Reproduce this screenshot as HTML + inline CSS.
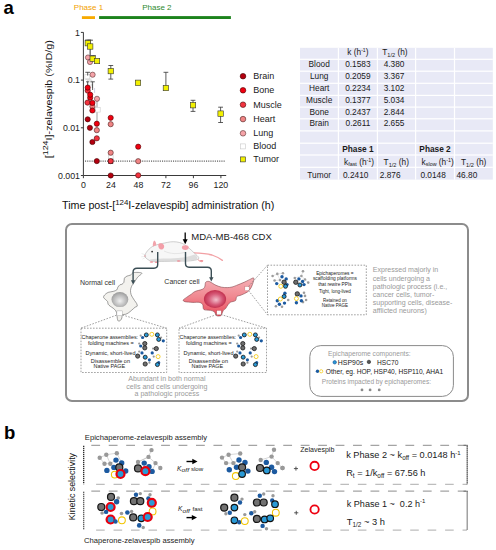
<!DOCTYPE html>
<html><head><meta charset="utf-8"><style>
html,body{margin:0;padding:0;background:#fff;overflow:hidden;}
svg{display:block;font-family:"Liberation Sans",sans-serif;}
</style></head><body>
<svg width="496" height="550" viewBox="0 0 496 550">
<rect width="496" height="550" fill="#fff"/>
<text x="3.6" y="13.7" font-size="18.5" font-weight="bold" fill="#000">a</text>
<text x="73.8" y="10.2" font-size="8" fill="#f2a000" text-anchor="start" >Phase 1</text>
<text x="142.2" y="10.3" font-size="8" fill="#2e8a2e" text-anchor="start" >Phase 2</text>
<rect x="81.9" y="16.2" width="13.1" height="2.8" fill="#f7aa00"/>
<rect x="99.1" y="16.1" width="131.8" height="2.9" fill="#1d831d"/>
<path d="M83.4 32.3 V175.5 H226.2" stroke="#3a3a3a" stroke-width="1" fill="none"/>
<path d="M80.9 32.40 H83.4" stroke="#3a3a3a" stroke-width="1"/>
<text x="80" y="35.60" font-size="8.8" fill="#222" text-anchor="end" >1</text>
<path d="M80.9 80.10 H83.4" stroke="#3a3a3a" stroke-width="1"/>
<text x="80" y="83.30" font-size="8.8" fill="#222" text-anchor="end" >0.1</text>
<path d="M80.9 127.80 H83.4" stroke="#3a3a3a" stroke-width="1"/>
<text x="80" y="131.00" font-size="8.8" fill="#222" text-anchor="end" >0.01</text>
<path d="M80.9 175.50 H83.4" stroke="#3a3a3a" stroke-width="1"/>
<text x="80" y="178.70" font-size="8.8" fill="#222" text-anchor="end" >0.001</text>
<path d="M83.40 175.5 V178.2" stroke="#3a3a3a" stroke-width="1"/>
<text x="83.40" y="187.6" font-size="8.8" fill="#222" text-anchor="middle" >0</text>
<path d="M110.90 175.5 V178.2" stroke="#3a3a3a" stroke-width="1"/>
<text x="110.90" y="187.6" font-size="8.8" fill="#222" text-anchor="middle" >24</text>
<path d="M138.40 175.5 V178.2" stroke="#3a3a3a" stroke-width="1"/>
<text x="138.40" y="187.6" font-size="8.8" fill="#222" text-anchor="middle" >48</text>
<path d="M165.90 175.5 V178.2" stroke="#3a3a3a" stroke-width="1"/>
<text x="165.90" y="187.6" font-size="8.8" fill="#222" text-anchor="middle" >72</text>
<path d="M193.40 175.5 V178.2" stroke="#3a3a3a" stroke-width="1"/>
<text x="193.40" y="187.6" font-size="8.8" fill="#222" text-anchor="middle" >96</text>
<path d="M220.90 175.5 V178.2" stroke="#3a3a3a" stroke-width="1"/>
<text x="220.90" y="187.6" font-size="8.8" fill="#222" text-anchor="middle" >120</text>
<path d="M85 161.1 H225" stroke="#333" stroke-width="1" stroke-dasharray="1.1 1.1"/>
<text x="62" y="209.1" font-size="11" fill="#111" textLength="212.3" lengthAdjust="spacingAndGlyphs">Time post-[<tspan font-size="8.1" dy="-4.3">124</tspan><tspan dy="4.3">I-zelavespib] administration (h)</tspan></text>
<text transform="translate(51.8 158.3) rotate(-90)" font-size="9.6" fill="#111" textLength="118.3" lengthAdjust="spacingAndGlyphs">[<tspan font-size="7.9" dy="-3.4">124</tspan><tspan dy="3.4">I]-zelavespib (%ID/g)</tspan></text>
<rect x="84.90" y="74.50" width="4.6" height="4.6" fill="#fff" stroke="#d4d4d4" stroke-width="0.6"/>
<rect x="87.30" y="80.50" width="4.6" height="4.6" fill="#fff" stroke="#d4d4d4" stroke-width="0.6"/>
<path d="M85.5 79.1 H91.5" stroke="#bbb" stroke-width="0.7"/>
<path d="M94.6 88 V93" stroke="#c8c8e0" stroke-width="0.8"/>
<path d="M87.7 72.3 V75.6 M85.3 72.3 H90.10000000000001" stroke="#333" stroke-width="0.8" fill="none"/>
<path d="M87.7 81.8 V86 M86.10000000000001 81.8 H89.3" stroke="#333" stroke-width="0.8" fill="none"/>
<path d="M92.6 81.8 V90 M90.39999999999999 81.8 H94.8" stroke="#333" stroke-width="0.8" fill="none"/>
<path d="M92.4 84 V88" stroke="#555" stroke-width="0.8"/>
<path d="M97 100 V128" stroke="#a8a8a8" stroke-width="1.1"/>
<rect x="95.40" y="107.30" width="4.8" height="4.8" fill="#fff" stroke="#ccc" stroke-width="0.6"/>
<rect x="108.30" y="154.90" width="4.8" height="4.8" fill="#fff" stroke="#c8c8c8" stroke-width="0.6"/>
<path d="M88.2 40 V44 M85.2 40 H91.2" stroke="#333" stroke-width="0.8" fill="none"/>
<path d="M90.2 40.2 V56 M87.4 40.2 H93.0" stroke="#333" stroke-width="0.8" fill="none"/>
<path d="M90.2 49 V56" stroke="#777" stroke-width="1"/>
<path d="M93.3 55.6 V60 M90.8 55.6 H95.8" stroke="#333" stroke-width="0.8" fill="none"/>
<path d="M110.8 65.5 V79.1 M108.39999999999999 65.5 H113.2 M108.39999999999999 79.1 H113.2" stroke="#333" stroke-width="0.8" fill="none"/>
<path d="M165.9 72.3 V88 M163.5 72.3 H168.3" stroke="#333" stroke-width="0.8" fill="none"/>
<path d="M193 100.3 V111.4 M190.6 100.3 H195.4 M190.6 111.4 H195.4" stroke="#333" stroke-width="0.8" fill="none"/>
<path d="M220.6 107.2 V122.5 M218.2 107.2 H223.0 M218.2 122.5 H223.0" stroke="#333" stroke-width="0.8" fill="none"/>
<rect x="108.2" y="158.8" width="5" height="5" fill="#222"/>
<circle cx="88" cy="57.5" r="2.6" fill="#f5a3a8" stroke="#5a3434" stroke-width="0.6"/>
<circle cx="90" cy="62" r="2.6" fill="#f5a3a8" stroke="#5a3434" stroke-width="0.6"/>
<circle cx="92.6" cy="74.7" r="2.6" fill="#f5a3a8" stroke="#5a3434" stroke-width="0.6"/>
<circle cx="87.7" cy="90.6" r="2.6" fill="#f2333f" stroke="#4a0808" stroke-width="0.6"/>
<circle cx="87.7" cy="87.6" r="2.6" fill="#f00010" stroke="#4a0000" stroke-width="0.6"/>
<circle cx="90.2" cy="97.7" r="2.6" fill="#f00010" stroke="#4a0000" stroke-width="0.6"/>
<circle cx="90.2" cy="94.7" r="2.6" fill="#f00010" stroke="#4a0000" stroke-width="0.6"/>
<circle cx="97" cy="98.8" r="2.6" fill="#f5a3a8" stroke="#5a3434" stroke-width="0.6"/>
<circle cx="87.5" cy="102.6" r="2.6" fill="#f2333f" stroke="#4a0808" stroke-width="0.6"/>
<circle cx="92.4" cy="106.4" r="2.6" fill="#f08484" stroke="#4a2424" stroke-width="0.6"/>
<circle cx="92.4" cy="102.9" r="2.6" fill="#f00010" stroke="#4a0000" stroke-width="0.6"/>
<circle cx="92.4" cy="110.5" r="2.6" fill="#f00010" stroke="#4a0000" stroke-width="0.6"/>
<circle cx="87.7" cy="119.3" r="2.6" fill="#b3000f" stroke="#400000" stroke-width="0.6"/>
<circle cx="96.8" cy="123.7" r="2.6" fill="#f00010" stroke="#4a0000" stroke-width="0.6"/>
<circle cx="89.9" cy="127.8" r="2.6" fill="#b3000f" stroke="#400000" stroke-width="0.6"/>
<circle cx="96.8" cy="130.2" r="2.6" fill="#f08484" stroke="#4a2424" stroke-width="0.6"/>
<circle cx="96.8" cy="138.3" r="2.6" fill="#f2333f" stroke="#4a0808" stroke-width="0.6"/>
<circle cx="92.4" cy="142" r="2.6" fill="#b3000f" stroke="#400000" stroke-width="0.6"/>
<circle cx="96.8" cy="161.1" r="2.6" fill="#b3000f" stroke="#400000" stroke-width="0.6"/>
<circle cx="110.7" cy="117.8" r="2.6" fill="#f00010" stroke="#4a0000" stroke-width="0.6"/>
<circle cx="110.7" cy="124.2" r="2.6" fill="#f08484" stroke="#4a2424" stroke-width="0.6"/>
<circle cx="110.7" cy="152.7" r="2.6" fill="#f08484" stroke="#4a2424" stroke-width="0.6"/>
<circle cx="110.7" cy="161.1" r="2.6" fill="#f2333f" stroke="#4a0808" stroke-width="0.6"/>
<circle cx="110.7" cy="175.5" r="2.6" fill="#b3000f" stroke="#400000" stroke-width="0.6"/>
<circle cx="138.2" cy="146.7" r="2.6" fill="#f00010" stroke="#4a0000" stroke-width="0.6"/>
<circle cx="138.2" cy="161.2" r="2.6" fill="#f08484" stroke="#4a2424" stroke-width="0.6"/>
<circle cx="138.2" cy="175.3" r="2.6" fill="#f2333f" stroke="#4a0808" stroke-width="0.6"/>
<rect x="85.10" y="40.50" width="5.4" height="5.4" fill="#f2f000" stroke="#333" stroke-width="0.6"/>
<rect x="87.50" y="43.80" width="5.4" height="5.4" fill="#f2f000" stroke="#333" stroke-width="0.6"/>
<rect x="90.00" y="56.00" width="5.4" height="5.4" fill="#f2f000" stroke="#333" stroke-width="0.6"/>
<rect x="94.30" y="58.30" width="5.4" height="5.4" fill="#f2f000" stroke="#333" stroke-width="0.6"/>
<rect x="108.10" y="68.40" width="5.4" height="5.4" fill="#f2f000" stroke="#333" stroke-width="0.6"/>
<rect x="135.30" y="80.10" width="5.4" height="5.4" fill="#f2f000" stroke="#333" stroke-width="0.6"/>
<rect x="163.20" y="85.30" width="5.4" height="5.4" fill="#f2f000" stroke="#333" stroke-width="0.6"/>
<rect x="190.30" y="102.50" width="5.4" height="5.4" fill="#f2f000" stroke="#333" stroke-width="0.6"/>
<rect x="217.90" y="110.90" width="5.4" height="5.4" fill="#f2f000" stroke="#333" stroke-width="0.6"/>
<circle cx="243" cy="76.2" r="2.8" fill="#b3000f" stroke="#400000" stroke-width="0.6"/>
<text x="253.3" y="79.2" font-size="9" fill="#1a1a1a" text-anchor="start" >Brain</text>
<circle cx="243" cy="90.3" r="2.8" fill="#f00010" stroke="#4a0000" stroke-width="0.6"/>
<text x="253.3" y="93.3" font-size="9" fill="#1a1a1a" text-anchor="start" >Bone</text>
<circle cx="243" cy="104.7" r="2.8" fill="#f2333f" stroke="#4a0808" stroke-width="0.6"/>
<text x="253.3" y="107.7" font-size="9" fill="#1a1a1a" text-anchor="start" >Muscle</text>
<circle cx="243" cy="119.1" r="2.8" fill="#f08484" stroke="#4a2424" stroke-width="0.6"/>
<text x="253.3" y="122.1" font-size="9" fill="#1a1a1a" text-anchor="start" >Heart</text>
<circle cx="243" cy="133.3" r="2.8" fill="#f5a3a8" stroke="#5a3434" stroke-width="0.6"/>
<text x="253.3" y="136.3" font-size="9" fill="#1a1a1a" text-anchor="start" >Lung</text>
<rect x="240.50" y="143.90" width="5" height="5" fill="#fff" stroke="#c8c8c8" stroke-width="0.6"/>
<text x="253.3" y="149.4" font-size="9" fill="#1a1a1a" text-anchor="start" >Blood</text>
<rect x="240.50" y="156.90" width="5" height="5" fill="#f2f000" stroke="#333" stroke-width="0.6"/>
<text x="253.3" y="162.4" font-size="9" fill="#1a1a1a" text-anchor="start" >Tumor</text>
<rect x="300" y="47.8" width="192.8" height="131.8" fill="#e8e9f6"/>
<rect x="337.79999999999995" y="47.8" width="1.2" height="131.8" fill="#fff"/>
<rect x="376.79999999999995" y="47.8" width="1.2" height="131.8" fill="#fff"/>
<rect x="415.0" y="47.8" width="1.2" height="131.8" fill="#fff"/>
<rect x="453.9" y="47.8" width="1.2" height="131.8" fill="#fff"/>
<rect x="300" y="58.699999999999996" width="192.8" height="1.2" fill="#fff"/>
<rect x="300" y="70.60000000000001" width="192.8" height="1.2" fill="#fff"/>
<rect x="300" y="82.7" width="192.8" height="1.2" fill="#fff"/>
<rect x="300" y="94.80000000000001" width="192.8" height="1.2" fill="#fff"/>
<rect x="300" y="106.5" width="192.8" height="1.2" fill="#fff"/>
<rect x="300" y="118.2" width="192.8" height="1.2" fill="#fff"/>
<rect x="300" y="130.3" width="192.8" height="1.2" fill="#fff"/>
<rect x="300" y="142.6" width="192.8" height="1.2" fill="#fff"/>
<rect x="300" y="154.4" width="192.8" height="1.2" fill="#fff"/>
<rect x="300" y="166.70000000000002" width="192.8" height="1.2" fill="#fff"/>
<text x="357.90" y="55.30" font-size="8.3" fill="#1a1a1a" text-anchor="middle" font-weight="normal">k (h<tspan font-size="5" dy="-3">-1</tspan><tspan dy="3">)</tspan></text>
<text x="394.90" y="55.30" font-size="8.3" fill="#1a1a1a" text-anchor="middle" font-weight="normal">T<tspan font-size="5.6" dy="2">1/2</tspan><tspan dy="-2"> (h)</tspan></text>
<text x="319.20" y="66.80" font-size="8.3" fill="#1a1a1a" text-anchor="middle" font-weight="normal">Blood</text>
<text x="357.90" y="66.80" font-size="8.3" fill="#1a1a1a" text-anchor="middle" font-weight="normal">0.1583</text>
<text x="394.10" y="66.80" font-size="8.3" fill="#1a1a1a" text-anchor="middle" font-weight="normal">4.380</text>
<text x="319.20" y="78.70" font-size="8.3" fill="#1a1a1a" text-anchor="middle" font-weight="normal">Lung</text>
<text x="357.90" y="78.70" font-size="8.3" fill="#1a1a1a" text-anchor="middle" font-weight="normal">0.2059</text>
<text x="394.10" y="78.70" font-size="8.3" fill="#1a1a1a" text-anchor="middle" font-weight="normal">3.367</text>
<text x="319.20" y="90.80" font-size="8.3" fill="#1a1a1a" text-anchor="middle" font-weight="normal">Heart</text>
<text x="357.90" y="90.80" font-size="8.3" fill="#1a1a1a" text-anchor="middle" font-weight="normal">0.2234</text>
<text x="394.10" y="90.80" font-size="8.3" fill="#1a1a1a" text-anchor="middle" font-weight="normal">3.102</text>
<text x="319.20" y="102.90" font-size="8.3" fill="#1a1a1a" text-anchor="middle" font-weight="normal">Muscle</text>
<text x="357.90" y="102.90" font-size="8.3" fill="#1a1a1a" text-anchor="middle" font-weight="normal">0.1377</text>
<text x="394.10" y="102.90" font-size="8.3" fill="#1a1a1a" text-anchor="middle" font-weight="normal">5.034</text>
<text x="319.20" y="114.60" font-size="8.3" fill="#1a1a1a" text-anchor="middle" font-weight="normal">Bone</text>
<text x="357.90" y="114.60" font-size="8.3" fill="#1a1a1a" text-anchor="middle" font-weight="normal">0.2437</text>
<text x="394.10" y="114.60" font-size="8.3" fill="#1a1a1a" text-anchor="middle" font-weight="normal">2.844</text>
<text x="319.20" y="126.30" font-size="8.3" fill="#1a1a1a" text-anchor="middle" font-weight="normal">Brain</text>
<text x="357.90" y="126.30" font-size="8.3" fill="#1a1a1a" text-anchor="middle" font-weight="normal">0.2611</text>
<text x="394.10" y="126.30" font-size="8.3" fill="#1a1a1a" text-anchor="middle" font-weight="normal">2.655</text>
<text x="357.90" y="151.90" font-size="8.3" fill="#1a1a1a" text-anchor="middle" font-weight="bold">Phase 1</text>
<text x="435.05" y="151.90" font-size="8.3" fill="#1a1a1a" text-anchor="middle" font-weight="bold">Phase 2</text>
<text x="344.00" y="164.60" font-size="8.3" fill="#1a1a1a" text-anchor="start" font-weight="normal">k<tspan font-size="5.4" dy="1.5">fast</tspan><tspan dy="-1.5"> (h</tspan><tspan font-size="5.4" dy="-3">-1</tspan><tspan dy="3">)</tspan></text>
<text x="383.60" y="164.60" font-size="8.3" fill="#1a1a1a" text-anchor="start" font-weight="normal">T<tspan font-size="5.6" dy="2">1/2</tspan><tspan dy="-2"> (h)</tspan></text>
<text x="421.60" y="164.60" font-size="8.3" fill="#1a1a1a" text-anchor="start" font-weight="normal">k<tspan font-size="5.4" dy="1.5">slow</tspan><tspan dy="-1.5"> (h</tspan><tspan font-size="5.4" dy="-3">-1</tspan><tspan dy="3">)</tspan></text>
<text x="461.00" y="164.60" font-size="8.3" fill="#1a1a1a" text-anchor="start" font-weight="normal">T<tspan font-size="5.6" dy="2">1/2</tspan><tspan dy="-2"> (h)</tspan></text>
<text x="319.20" y="178.00" font-size="8.3" fill="#1a1a1a" text-anchor="middle" font-weight="normal">Tumor</text>
<text x="343.00" y="178.00" font-size="8.3" fill="#1a1a1a" text-anchor="start" font-weight="normal">0.2410</text>
<text x="379.80" y="178.00" font-size="8.3" fill="#1a1a1a" text-anchor="start" font-weight="normal">2.876</text>
<text x="420.40" y="178.00" font-size="8.3" fill="#1a1a1a" text-anchor="start" font-weight="normal">0.0148</text>
<text x="456.50" y="178.00" font-size="8.3" fill="#1a1a1a" text-anchor="start" font-weight="normal">46.80</text>
<rect x="66" y="224" width="402" height="177" rx="6" fill="none" stroke="#8c8c8c" stroke-width="2"/>
<path d="M193.5 252.9 C200 253.1 206 253.4 212 255 C216 256.3 219.5 258.3 222.4 260.4" stroke="#f2a0a4" stroke-width="1.3" fill="none" stroke-linecap="round"/>
<path d="M144.80 256.00 C144.68 254.58 146.28 252.52 147.30 251.10 C148.32 249.68 149.70 248.42 150.90 247.50 C152.10 246.58 153.23 246.13 154.50 245.60 C155.77 245.07 156.88 244.72 158.50 244.30 C160.12 243.88 162.25 243.50 164.20 243.10 C166.15 242.70 168.18 242.10 170.20 241.90 C172.22 241.70 174.28 241.65 176.30 241.90 C178.32 242.15 180.63 242.72 182.30 243.40 C183.97 244.08 185.05 245.10 186.30 246.00 C187.55 246.90 188.58 247.73 189.80 248.80 C191.02 249.87 192.40 251.28 193.60 252.40 C194.80 253.52 196.13 254.57 197.00 255.50 C197.87 256.43 198.88 257.28 198.80 258.00 C198.72 258.72 198.30 259.30 196.50 259.80 C194.70 260.30 191.37 260.78 188.00 261.00 C184.63 261.22 180.27 261.03 176.30 261.10 C172.33 261.17 168.03 261.35 164.20 261.40 C160.37 261.45 156.00 261.70 153.30 261.40 C150.60 261.10 149.42 260.50 148.00 259.60 C146.58 258.70 144.92 257.42 144.80 256.00 Z" fill="#f7f7f7" stroke="#a0a0a0" stroke-width="0.5"/>
<path d="M150 259.5 C158 258 168 259 178 258 C185 257.5 190 256.5 194.5 254.5 C197.5 256.5 198.5 258.5 196 259.7 C185 261 165 261.5 153 261.4 C151 261 150.5 260.5 150 259.5 Z" fill="#d6d6d6" opacity="0.8"/>
<path d="M164 251 C170 254 178 254.5 186 252" stroke="#dcdcdc" stroke-width="0.7" fill="none"/>
<path d="M152.8 246.4 C152.6 243.5 153.3 241 154.4 240.4 C155.6 241.2 156.4 243.5 156.3 245.2 Z" fill="#f2a4ac"/>
<path d="M158.2 244.5 C159.5 242.8 162.5 243 163.8 245 C164.8 247 163.6 249.3 161.5 249.6 C159.5 249.6 158 247.5 158.2 244.5 Z" fill="#f39ea8"/>
<circle cx="152.1" cy="251.6" r="0.85" fill="#222"/>
<circle cx="145" cy="256" r="0.8" fill="#f09aa0"/>
<path d="M146 255 L141.5 253.5 M146 256.3 L141.2 256.8 M146.5 257 L142.5 259" stroke="#bbb" stroke-width="0.25"/>
<ellipse cx="185.3" cy="247.6" rx="3.4" ry="2.4" fill="#f4a0aa"/>
<ellipse cx="151.5" cy="262" rx="1.9" ry="0.8" fill="#ef8f98"/>
<ellipse cx="156.5" cy="262.2" rx="1.9" ry="0.8" fill="#ef8f98"/>
<ellipse cx="178.7" cy="261" rx="1.9" ry="0.8" fill="#ef8f98"/>
<ellipse cx="201.5" cy="260.8" rx="1.9" ry="0.8" fill="#ef8f98"/>
<path d="M198 259.5 C199.5 261.5 201 262 203 261.3" stroke="#f2a2a4" stroke-width="1.1" fill="none"/>
<path d="M185.2 232.6 V240" stroke="#000" stroke-width="1.3"/>
<path d="M182.7 239.2 L187.7 239.2 L185.2 244.2 Z" fill="#000"/>
<text x="191.2" y="240.3" font-size="9.5" fill="#1a1a1a" text-anchor="start" textLength="80.6" lengthAdjust="spacingAndGlyphs">MDA-MB-468 CDX</text>
<text x="80" y="285.2" font-size="7" fill="#333" text-anchor="start" textLength="35" lengthAdjust="spacingAndGlyphs">Normal cell</text>
<text x="164.3" y="284.3" font-size="7" fill="#333" text-anchor="start" textLength="35.3" lengthAdjust="spacingAndGlyphs">Cancer cell</text>
<defs><radialGradient id="gn" cx="0.5" cy="0.55" r="0.55" fx="0.5" fy="0.6"><stop offset="0" stop-color="#f0f0f0"/><stop offset="0.7" stop-color="#b8b8b8"/><stop offset="1" stop-color="#9a9a9a"/></radialGradient><radialGradient id="gc" cx="0.5" cy="0.5" r="0.55" fx="0.55" fy="0.55"><stop offset="0" stop-color="#f2c0cc"/><stop offset="0.55" stop-color="#d65a78"/><stop offset="0.9" stop-color="#c2304e"/><stop offset="1" stop-color="#b02444"/></radialGradient><linearGradient id="gcc" x1="0" y1="0" x2="0" y2="1"><stop offset="0" stop-color="#f5b0b6"/><stop offset="0.5" stop-color="#f08890"/><stop offset="1" stop-color="#e84a5c"/></linearGradient></defs>
<path d="M141.80 273.10 C141.12 272.33 135.48 272.27 133.60 272.60 C131.72 272.93 131.60 274.52 130.50 275.10 C129.40 275.68 128.02 275.58 127.00 276.10 C125.98 276.62 124.92 277.17 124.40 278.20 C123.88 279.23 124.32 281.28 123.90 282.30 C123.48 283.32 122.57 283.88 121.90 284.30 C121.23 284.72 120.58 284.30 119.90 284.80 C119.22 285.30 118.32 286.45 117.80 287.30 C117.28 288.15 117.57 289.22 116.80 289.90 C116.03 290.58 114.65 290.98 113.20 291.40 C111.75 291.82 109.53 291.80 108.10 292.40 C106.67 293.00 105.35 294.15 104.60 295.00 C103.85 295.85 103.43 296.73 103.60 297.50 C103.77 298.27 104.93 298.92 105.60 299.60 C106.27 300.28 107.18 300.83 107.60 301.60 C108.02 302.37 107.67 303.43 108.10 304.20 C108.53 304.97 109.35 305.53 110.20 306.20 C111.05 306.87 112.27 307.43 113.20 308.20 C114.13 308.97 115.20 309.87 115.80 310.80 C116.40 311.73 116.55 312.53 116.80 313.80 C117.05 315.07 117.05 317.20 117.30 318.40 C117.55 319.60 117.78 320.67 118.30 321.00 C118.82 321.33 119.80 320.92 120.40 320.40 C121.00 319.88 121.57 318.83 121.90 317.90 C122.23 316.97 121.80 315.40 122.40 314.80 C123.00 314.20 124.48 314.63 125.50 314.30 C126.52 313.97 127.48 313.47 128.50 312.80 C129.52 312.13 130.50 311.23 131.60 310.30 C132.70 309.37 134.17 307.88 135.10 307.20 C136.03 306.52 136.93 306.80 137.20 306.20 C137.47 305.60 137.13 304.53 136.70 303.60 C136.27 302.67 135.28 301.62 134.60 300.60 C133.92 299.58 133.18 298.52 132.60 297.50 C132.02 296.48 131.45 295.68 131.10 294.50 C130.75 293.32 130.42 291.77 130.50 290.40 C130.58 289.03 131.08 287.48 131.60 286.30 C132.12 285.12 132.58 284.82 133.60 283.30 C134.62 281.78 136.33 278.90 137.70 277.20 C139.07 275.50 142.48 273.87 141.80 273.10 Z" fill="#f3f2ee" stroke="#555" stroke-width="0.55"/>
<ellipse cx="119.9" cy="299.6" rx="8.4" ry="7.5" fill="url(#gn)"/>
<rect x="116.9" y="310.9" width="5.4" height="4.9" fill="#fff" stroke="#999" stroke-width="0.4"/>
<path d="M205.50 282.60 C205.93 281.68 206.58 281.55 207.30 281.40 C208.02 281.25 208.85 281.33 209.80 281.70 C210.75 282.07 211.97 283.00 213.00 283.60 C214.03 284.20 214.57 284.70 216.00 285.30 C217.43 285.90 219.72 286.82 221.60 287.20 C223.48 287.58 225.57 287.63 227.30 287.60 C229.03 287.57 230.47 287.37 232.00 287.00 C233.53 286.63 234.42 286.22 236.50 285.40 C238.58 284.58 242.08 283.18 244.50 282.10 C246.92 281.02 249.48 279.58 251.00 278.90 C252.52 278.22 253.20 277.57 253.60 278.00 C254.00 278.43 253.80 279.92 253.40 281.50 C253.00 283.08 252.15 285.78 251.20 287.50 C250.25 289.22 249.35 290.55 247.70 291.80 C246.05 293.05 243.12 294.20 241.30 295.00 C239.48 295.80 237.77 295.67 236.80 296.60 C235.83 297.53 236.55 299.67 235.50 300.60 C234.45 301.53 231.73 301.53 230.50 302.20 C229.27 302.87 228.92 303.53 228.10 304.60 C227.28 305.67 226.42 307.62 225.60 308.60 C224.78 309.58 223.87 309.48 223.20 310.50 C222.53 311.52 222.13 313.80 221.60 314.70 C221.07 315.60 220.87 315.75 220.00 315.90 C219.13 316.05 217.33 316.27 216.40 315.60 C215.47 314.93 215.42 312.78 214.40 311.90 C213.38 311.02 212.05 310.70 210.30 310.30 C208.55 309.90 205.17 310.45 203.90 309.50 C202.63 308.55 203.45 305.78 202.70 304.60 C201.95 303.42 201.03 302.77 199.40 302.40 C197.77 302.03 195.30 302.52 192.90 302.40 C190.50 302.28 186.60 302.10 185.00 301.70 C183.40 301.30 183.05 300.72 183.30 300.00 C183.55 299.28 185.17 298.37 186.50 297.40 C187.83 296.43 189.88 295.18 191.30 294.20 C192.72 293.22 193.17 292.32 195.00 291.50 C196.83 290.68 200.68 290.07 202.30 289.30 C203.92 288.53 204.17 288.02 204.70 286.90 C205.23 285.78 205.07 283.52 205.50 282.60 Z" fill="url(#gcc)" stroke="#7a3a40" stroke-width="0.55"/>
<ellipse cx="215" cy="299" rx="11.1" ry="9" fill="url(#gc)"/>
<rect x="244.9" y="286.5" width="4.2" height="4.2" fill="#fff" stroke="#a55" stroke-width="0.3"/>
<rect x="216.8" y="310.5" width="4.4" height="4.3" fill="#fff" stroke="#a55" stroke-width="0.3"/>
<path d="M157.7 252 V264.5 Q157.7 268.2 154 268.2 H137 Q133.1 268.2 133.1 272 V281" stroke="#3b4e55" stroke-width="1.4" fill="none"/>
<path d="M130.9 280.2 L135.3 280.2 L133.1 284.4 Z" fill="#3b4e55"/>
<path d="M185.5 252 V263.5 Q185.5 267.2 189 267.2 H207.5 Q211.3 267.2 211.3 271 V278" stroke="#3b4e55" stroke-width="1.4" fill="none"/>
<path d="M209.1 277.3 L213.5 277.3 L211.3 281.5 Z" fill="#3b4e55"/>
<path d="M248.5 286.5 L267.5 265.2 M248.5 290.5 L267.5 314.8" stroke="#777" stroke-width="0.7" stroke-dasharray="1.6 1.4" fill="none"/>
<rect x="267.5" y="265.2" width="98.8" height="49.6" stroke="#777" stroke-width="0.7" stroke-dasharray="1.6 1.4" fill="none"/>
<path d="M116.4 315.2 L81 328.2 M122.5 315 L166.7 328.2" stroke="#777" stroke-width="0.7" stroke-dasharray="1.6 1.4" fill="none"/>
<rect x="81" y="328.2" width="85.7" height="44.3" stroke="#777" stroke-width="0.7" stroke-dasharray="1.6 1.4" fill="none"/>
<path d="M216.7 314.5 L179 328.2 M220.9 314.5 L266.5 328.2" stroke="#777" stroke-width="0.7" stroke-dasharray="1.6 1.4" fill="none"/>
<rect x="179" y="328.2" width="87.5" height="44.3" stroke="#777" stroke-width="0.7" stroke-dasharray="1.6 1.4" fill="none"/>
<text x="334.9" y="274.7" font-size="5.6" fill="#1a1a1a" text-anchor="middle" textLength="37.5" lengthAdjust="spacingAndGlyphs">Epichaperomes =</text>
<text x="334.9" y="280.1" font-size="5.6" fill="#1a1a1a" text-anchor="middle" textLength="44" lengthAdjust="spacingAndGlyphs">scaffolding platforms</text>
<text x="334.9" y="285.6" font-size="5.6" fill="#1a1a1a" text-anchor="middle" textLength="33.5" lengthAdjust="spacingAndGlyphs">that rewire PPIs</text>
<text x="334.9" y="293.3" font-size="5.6" fill="#1a1a1a" text-anchor="middle" textLength="32" lengthAdjust="spacingAndGlyphs">Tight, long-lived</text>
<text x="334.9" y="301.5" font-size="5.6" fill="#1a1a1a" text-anchor="middle" textLength="23.8" lengthAdjust="spacingAndGlyphs">Retained on</text>
<text x="334.9" y="306.8" font-size="5.6" fill="#1a1a1a" text-anchor="middle" textLength="26.3" lengthAdjust="spacingAndGlyphs">Native PAGE</text>
<circle cx="272.6" cy="276.0" r="1.3" fill="#9b9b9b"/>
<circle cx="277.3" cy="273.9" r="1.3" fill="#9b9b9b"/>
<circle cx="282.9" cy="273.3" r="1.3" fill="#9b9b9b"/>
<circle cx="274.6" cy="280.5" r="1.3" fill="#9b9b9b"/>
<circle cx="280.0" cy="280.1" r="1.3" fill="#9b9b9b"/>
<path d="M272.6 276 L277.3 273.9 L282.9 273.3 M274.6 280.5 L280 280.1 L277.3 273.9" stroke="#aaa" stroke-width="0.3" fill="none"/>
<circle cx="282.0" cy="276.8" r="1.7" fill="#1c5aa0"/>
<circle cx="286.2" cy="278.9" r="1.7" fill="#1c5aa0"/>
<circle cx="276.7" cy="283.6" r="1.7" fill="#1c5aa0"/>
<circle cx="287.0" cy="284.6" r="1.7" fill="#1c5aa0"/>
<circle cx="284.1" cy="282.2" r="2.2" fill="#6e6e6e" stroke="#1a1a1a" stroke-width="0.8"/>
<circle cx="280.8" cy="286.3" r="2.0" fill="#fff" stroke="#f2c500" stroke-width="0.8"/>
<circle cx="285.5" cy="286.3" r="2.0" fill="#2a9ad6" stroke="#111" stroke-width="0.8"/>
<circle cx="303.0" cy="271.3" r="1.3" fill="#9b9b9b"/>
<circle cx="301.4" cy="276.0" r="1.3" fill="#9b9b9b"/>
<circle cx="294.8" cy="278.0" r="1.3" fill="#9b9b9b"/>
<circle cx="305.0" cy="279.5" r="1.3" fill="#9b9b9b"/>
<circle cx="308.2" cy="282.6" r="1.3" fill="#9b9b9b"/>
<path d="M303 271.3 L301.4 276 L294.8 278 M301.4 276 L305 279.5 L308.2 282.6" stroke="#aaa" stroke-width="0.3" fill="none"/>
<circle cx="298.9" cy="278.9" r="1.7" fill="#1c5aa0"/>
<circle cx="302.6" cy="281.5" r="1.7" fill="#1c5aa0"/>
<circle cx="304.0" cy="284.6" r="1.7" fill="#1c5aa0"/>
<circle cx="295.8" cy="282.2" r="2.2" fill="#6e6e6e" stroke="#1a1a1a" stroke-width="0.8"/>
<circle cx="299.9" cy="285.0" r="2.0" fill="#2a9ad6" stroke="#111" stroke-width="0.8"/>
<circle cx="288.2" cy="300.0" r="1.3" fill="#9b9b9b"/>
<circle cx="275.9" cy="306.2" r="1.3" fill="#9b9b9b"/>
<circle cx="282.0" cy="306.8" r="1.3" fill="#9b9b9b"/>
<circle cx="284.9" cy="293.3" r="1.7" fill="#1c5aa0"/>
<circle cx="277.3" cy="300.7" r="1.7" fill="#1c5aa0"/>
<circle cx="279.4" cy="304.2" r="1.7" fill="#1c5aa0"/>
<circle cx="284.5" cy="303.1" r="1.7" fill="#1c5aa0"/>
<circle cx="284.1" cy="296.5" r="2.0" fill="#2a9ad6" stroke="#111" stroke-width="0.8"/>
<circle cx="280.4" cy="299.0" r="2.0" fill="#fff" stroke="#f2c500" stroke-width="0.8"/>
<circle cx="305.0" cy="295.9" r="1.3" fill="#9b9b9b"/>
<circle cx="306.1" cy="300.0" r="1.3" fill="#9b9b9b"/>
<circle cx="303.0" cy="302.1" r="1.3" fill="#9b9b9b"/>
<circle cx="304.0" cy="292.8" r="1.3" fill="#9b9b9b"/>
<circle cx="301.0" cy="295.9" r="1.7" fill="#1c5aa0"/>
<circle cx="301.4" cy="300.7" r="1.7" fill="#1c5aa0"/>
<circle cx="296.4" cy="302.7" r="1.7" fill="#1c5aa0"/>
<circle cx="297.3" cy="293.9" r="2.2" fill="#6e6e6e" stroke="#1a1a1a" stroke-width="0.8"/>
<circle cx="296.4" cy="298.6" r="2.0" fill="#fff" stroke="#f2c500" stroke-width="0.8"/>
<text x="372.8" y="272.4" font-size="7.05" fill="#9a9a9a" text-anchor="start">Expressed majorly in</text>
<text x="372.8" y="280.6" font-size="7.05" fill="#9a9a9a" text-anchor="start">cells undergoing a</text>
<text x="372.8" y="288.8" font-size="7.05" fill="#9a9a9a" text-anchor="start">pathologic process (i.e.,</text>
<text x="372.8" y="297.0" font-size="7.05" fill="#9a9a9a" text-anchor="start">cancer cells, tumor-</text>
<text x="372.8" y="305.2" font-size="7.05" fill="#9a9a9a" text-anchor="start">supporting cells, disease-</text>
<text x="372.8" y="313.4" font-size="7.05" fill="#9a9a9a" text-anchor="start">afflicted neurons)</text>
<text x="81.5" y="339.4" font-size="5.7" fill="#1a1a1a" text-anchor="start" textLength="56.6" lengthAdjust="spacingAndGlyphs">Chaperone assemblies:</text>
<text x="88.0" y="344.6" font-size="5.7" fill="#1a1a1a" text-anchor="start" textLength="45.7" lengthAdjust="spacingAndGlyphs">folding machines =</text>
<text x="85.6" y="354.8" font-size="5.7" fill="#1a1a1a" text-anchor="start" textLength="49.9" lengthAdjust="spacingAndGlyphs">Dynamic, short-lived</text>
<text x="90.8" y="362.7" font-size="5.7" fill="#1a1a1a" text-anchor="start" textLength="39.2" lengthAdjust="spacingAndGlyphs">Disassemble on</text>
<text x="93.6" y="367.7" font-size="5.7" fill="#1a1a1a" text-anchor="start" textLength="31.6" lengthAdjust="spacingAndGlyphs">Native PAGE</text>
<circle cx="140.7" cy="335.6" r="1.1" fill="#9b9b9b"/>
<circle cx="161.1" cy="337.5" r="1.1" fill="#9b9b9b"/>
<circle cx="139.2" cy="343.6" r="1.1" fill="#9b9b9b"/>
<circle cx="153.1" cy="348.6" r="1.1" fill="#9b9b9b"/>
<circle cx="139.2" cy="351.6" r="1.1" fill="#9b9b9b"/>
<circle cx="153.7" cy="356.6" r="1.1" fill="#9b9b9b"/>
<circle cx="149.4" cy="362.7" r="1.1" fill="#9b9b9b"/>
<circle cx="142.6" cy="337.5" r="1.6" fill="#1c5aa0"/>
<circle cx="163.3" cy="340.8" r="1.6" fill="#1c5aa0"/>
<circle cx="140.7" cy="346.0" r="1.6" fill="#1c5aa0"/>
<circle cx="152.2" cy="352.9" r="1.6" fill="#1c5aa0"/>
<circle cx="142.0" cy="352.9" r="1.6" fill="#1c5aa0"/>
<circle cx="149.4" cy="359.8" r="1.6" fill="#1c5aa0"/>
<circle cx="158.7" cy="362.7" r="1.6" fill="#1c5aa0"/>
<circle cx="144.8" cy="343.6" r="2.1" fill="#6e6e6e" stroke="#1a1a1a" stroke-width="0.8"/>
<circle cx="144.8" cy="347.9" r="2.1" fill="#6e6e6e" stroke="#1a1a1a" stroke-width="0.8"/>
<circle cx="156.3" cy="348.6" r="2.1" fill="#6e6e6e" stroke="#1a1a1a" stroke-width="0.8"/>
<circle cx="137.7" cy="356.1" r="2.1" fill="#6e6e6e" stroke="#1a1a1a" stroke-width="0.8"/>
<circle cx="145.2" cy="364.0" r="2.1" fill="#6e6e6e" stroke="#1a1a1a" stroke-width="0.8"/>
<circle cx="146.3" cy="334.9" r="2.0" fill="#2a9ad6" stroke="#111" stroke-width="0.8"/>
<circle cx="157.4" cy="334.9" r="2.0" fill="#2a9ad6" stroke="#111" stroke-width="0.8"/>
<circle cx="158.7" cy="339.4" r="2.0" fill="#2a9ad6" stroke="#111" stroke-width="0.8"/>
<circle cx="145.2" cy="357.2" r="2.0" fill="#2a9ad6" stroke="#111" stroke-width="0.8"/>
<circle cx="157.4" cy="364.6" r="2.0" fill="#2a9ad6" stroke="#111" stroke-width="0.8"/>
<circle cx="151.8" cy="334.3" r="2.0" fill="#fff" stroke="#f2c500" stroke-width="0.8"/>
<circle cx="158.1" cy="356.6" r="2.0" fill="#fff" stroke="#f2c500" stroke-width="0.8"/>
<text x="179.5" y="339.4" font-size="5.7" fill="#1a1a1a" text-anchor="start" textLength="56.6" lengthAdjust="spacingAndGlyphs">Chaperone assemblies:</text>
<text x="186.0" y="344.6" font-size="5.7" fill="#1a1a1a" text-anchor="start" textLength="45.7" lengthAdjust="spacingAndGlyphs">folding machines =</text>
<text x="183.6" y="354.8" font-size="5.7" fill="#1a1a1a" text-anchor="start" textLength="49.9" lengthAdjust="spacingAndGlyphs">Dynamic, short-lived</text>
<text x="188.8" y="362.7" font-size="5.7" fill="#1a1a1a" text-anchor="start" textLength="39.2" lengthAdjust="spacingAndGlyphs">Disassemble on</text>
<text x="191.6" y="367.7" font-size="5.7" fill="#1a1a1a" text-anchor="start" textLength="31.6" lengthAdjust="spacingAndGlyphs">Native PAGE</text>
<circle cx="238.7" cy="335.6" r="1.1" fill="#9b9b9b"/>
<circle cx="259.1" cy="337.5" r="1.1" fill="#9b9b9b"/>
<circle cx="237.2" cy="343.6" r="1.1" fill="#9b9b9b"/>
<circle cx="251.1" cy="348.6" r="1.1" fill="#9b9b9b"/>
<circle cx="237.2" cy="351.6" r="1.1" fill="#9b9b9b"/>
<circle cx="251.7" cy="356.6" r="1.1" fill="#9b9b9b"/>
<circle cx="247.4" cy="362.7" r="1.1" fill="#9b9b9b"/>
<circle cx="240.6" cy="337.5" r="1.6" fill="#1c5aa0"/>
<circle cx="261.3" cy="340.8" r="1.6" fill="#1c5aa0"/>
<circle cx="238.7" cy="346.0" r="1.6" fill="#1c5aa0"/>
<circle cx="250.2" cy="352.9" r="1.6" fill="#1c5aa0"/>
<circle cx="240.0" cy="352.9" r="1.6" fill="#1c5aa0"/>
<circle cx="247.4" cy="359.8" r="1.6" fill="#1c5aa0"/>
<circle cx="256.7" cy="362.7" r="1.6" fill="#1c5aa0"/>
<circle cx="242.8" cy="343.6" r="2.1" fill="#6e6e6e" stroke="#1a1a1a" stroke-width="0.8"/>
<circle cx="242.8" cy="347.9" r="2.1" fill="#6e6e6e" stroke="#1a1a1a" stroke-width="0.8"/>
<circle cx="254.3" cy="348.6" r="2.1" fill="#6e6e6e" stroke="#1a1a1a" stroke-width="0.8"/>
<circle cx="235.7" cy="356.1" r="2.1" fill="#6e6e6e" stroke="#1a1a1a" stroke-width="0.8"/>
<circle cx="243.2" cy="364.0" r="2.1" fill="#6e6e6e" stroke="#1a1a1a" stroke-width="0.8"/>
<circle cx="244.3" cy="334.9" r="2.0" fill="#2a9ad6" stroke="#111" stroke-width="0.8"/>
<circle cx="255.4" cy="334.9" r="2.0" fill="#2a9ad6" stroke="#111" stroke-width="0.8"/>
<circle cx="256.7" cy="339.4" r="2.0" fill="#2a9ad6" stroke="#111" stroke-width="0.8"/>
<circle cx="243.2" cy="357.2" r="2.0" fill="#2a9ad6" stroke="#111" stroke-width="0.8"/>
<circle cx="255.4" cy="364.6" r="2.0" fill="#2a9ad6" stroke="#111" stroke-width="0.8"/>
<circle cx="249.8" cy="334.3" r="2.0" fill="#fff" stroke="#f2c500" stroke-width="0.8"/>
<circle cx="256.1" cy="356.6" r="2.0" fill="#fff" stroke="#f2c500" stroke-width="0.8"/>
<text x="166.9" y="380.5" font-size="7.05" fill="#9a9a9a" text-anchor="middle" textLength="77.19999999999999" lengthAdjust="spacingAndGlyphs">Abundant in both normal</text>
<text x="166.9" y="388.5" font-size="7.05" fill="#9a9a9a" text-anchor="middle" textLength="81.1" lengthAdjust="spacingAndGlyphs">cells and cells undergoing</text>
<text x="166.9" y="396.0" font-size="7.05" fill="#9a9a9a" text-anchor="middle" textLength="64.69999999999999" lengthAdjust="spacingAndGlyphs">a pathologic process</text>
<rect x="309.8" y="345.6" width="143.6" height="50.8" rx="11" fill="none" stroke="#8a8a8a" stroke-width="1"/>
<text x="328" y="355.6" font-size="6.4" fill="#9a9a9a" text-anchor="start" textLength="82.6" lengthAdjust="spacingAndGlyphs">Epichaperome components:</text>
<circle cx="334.7" cy="362.3" r="1.7" fill="#2a9ad6" stroke="#1c5aa0" stroke-width="0.7"/>
<text x="337.8" y="364.7" font-size="6.4" fill="#1a1a1a" text-anchor="start" textLength="25.4" lengthAdjust="spacingAndGlyphs">HSP90s</text>
<circle cx="368.9" cy="361.9" r="1.7" fill="#555" stroke="#222" stroke-width="0.6"/>
<text x="377.1" y="364.7" font-size="6.4" fill="#1a1a1a" text-anchor="start" textLength="21.3" lengthAdjust="spacingAndGlyphs">HSC70</text>
<circle cx="317.5" cy="371.3" r="1.7" fill="#1c5aa0"/>
<circle cx="321.2" cy="371.3" r="1.6" fill="#fff" stroke="#f2c500" stroke-width="0.7"/>
<text x="325.8" y="373.8" font-size="6.4" fill="#1a1a1a" text-anchor="start" textLength="117.4" lengthAdjust="spacingAndGlyphs">Other, eg. HOP, HSP40, HSP110, AHA1</text>
<text x="321.8" y="383.7" font-size="6.4" fill="#9a9a9a" text-anchor="start" textLength="109.2" lengthAdjust="spacingAndGlyphs">Proteins impacted by epichaperomes:</text>
<circle cx="362" cy="389.9" r="1.4" fill="#8a8a8a"/>
<circle cx="370.1" cy="389.9" r="1.4" fill="#8a8a8a"/>
<circle cx="379.2" cy="389.9" r="1.4" fill="#8a8a8a"/>
<text x="3.9" y="439.1" font-size="18.5" font-weight="bold" fill="#000">b</text>
<text x="84.8" y="439.6" font-size="7.6" fill="#222" text-anchor="start" textLength="122.2" lengthAdjust="spacingAndGlyphs">Epichaperome-zelavespib assembly</text>
<text x="84.0" y="542.6" font-size="7.6" fill="#222" text-anchor="start" textLength="110.6" lengthAdjust="spacingAndGlyphs">Chaperone-zelavespib assembly</text>
<text transform="translate(75.2 520.2) rotate(-90)" font-size="9" fill="#111" textLength="67.2" lengthAdjust="spacingAndGlyphs">Kinetic selectivity</text>
<path d="M91.3 445.3 H466" stroke="#a4a4a4" stroke-width="1.25" stroke-dasharray="8.8 8.65" fill="none"/>
<path d="M96.1 484.3 H467" stroke="#bdbdbd" stroke-width="1.2" stroke-dasharray="8.6 8.85" fill="none"/>
<path d="M83.7 445.8 V484.3" stroke="#1e1e1e" stroke-width="1.25" stroke-dasharray="1.1 0.9" fill="none"/>
<path d="M467.2 445.6 V484.3" stroke="#1e1e1e" stroke-width="1.25" stroke-dasharray="1.1 0.9" fill="none"/>
<path d="M463.5 445.3 H467.8" stroke="#666" stroke-width="0.9"/>
<path d="M91.3 491.2 H466" stroke="#a4a4a4" stroke-width="1.25" stroke-dasharray="8.8 8.65" fill="none"/>
<path d="M96.1 530.1 H467" stroke="#bdbdbd" stroke-width="1.2" stroke-dasharray="8.6 8.85" fill="none"/>
<path d="M83.7 491.7 V530.1" stroke="#1e1e1e" stroke-width="1.25" stroke-dasharray="1.1 0.9" fill="none"/>
<path d="M467.2 491.5 V530.1" stroke="#1e1e1e" stroke-width="1.25" stroke-dasharray="1.1 0.9" fill="none"/>
<path d="M463.5 491.2 H467.8" stroke="#666" stroke-width="0.9"/>
<path d="M99.7 457.7 L106.3 454.7 L110.3 463.7 L104.5 463.7 L99.7 457.7" stroke="#b0b0b0" stroke-width="0.5" fill="none"/>
<path d="M106.3 454.7 L116.8 453.2 L121.7 462.9" stroke="#b0b0b0" stroke-width="0.5" fill="none"/>
<path d="M110.3 463.7 L116.0 460.1" stroke="#b0b0b0" stroke-width="0.5" fill="none"/>
<circle cx="99.7" cy="457.7" r="2.2" fill="#999"/>
<circle cx="106.3" cy="454.7" r="2.2" fill="#999"/>
<circle cx="116.8" cy="453.2" r="2.2" fill="#999"/>
<circle cx="104.5" cy="463.7" r="2.2" fill="#999"/>
<circle cx="110.3" cy="463.7" r="2.2" fill="#999"/>
<circle cx="116.0" cy="460.1" r="2.7" fill="#1c5aa0"/>
<circle cx="121.7" cy="462.9" r="2.7" fill="#1c5aa0"/>
<circle cx="113.9" cy="467.4" r="2.7" fill="#1c5aa0"/>
<circle cx="106.9" cy="470.4" r="2.7" fill="#1c5aa0"/>
<circle cx="125.7" cy="471.0" r="2.7" fill="#1c5aa0"/>
<circle cx="119.3" cy="467.4" r="3.5" fill="#727272" stroke="#161616" stroke-width="1.2"/>
<circle cx="114.8" cy="474.6" r="3.4" fill="#fff" stroke="#f2c500" stroke-width="1.05"/>
<circle cx="120.5" cy="474.0" r="4.0" fill="#2a9ad6" stroke="#e8000e" stroke-width="2.2"/>
<path d="M151.5 450.1 L148.5 456.9 L138.0 462.0 L148.5 456.9 L155.5 463.1 L160.3 468.0" stroke="#b0b0b0" stroke-width="0.5" fill="none"/>
<path d="M155.5 463.1 L152.1 471.4" stroke="#b0b0b0" stroke-width="0.5" fill="none"/>
<circle cx="151.5" cy="450.1" r="2.2" fill="#999"/>
<circle cx="148.5" cy="456.9" r="2.2" fill="#999"/>
<circle cx="155.5" cy="463.1" r="2.2" fill="#999"/>
<circle cx="160.3" cy="468.0" r="2.2" fill="#999"/>
<circle cx="138.0" cy="462.0" r="2.2" fill="#999"/>
<circle cx="144.2" cy="463.1" r="2.7" fill="#1c5aa0"/>
<circle cx="149.0" cy="466.8" r="2.7" fill="#1c5aa0"/>
<circle cx="152.1" cy="471.4" r="2.7" fill="#1c5aa0"/>
<circle cx="138.0" cy="468.4" r="3.5" fill="#727272" stroke="#161616" stroke-width="1.2"/>
<circle cx="145.4" cy="471.2" r="4.0" fill="#2a9ad6" stroke="#e8000e" stroke-width="2.2"/>
<path d="M186.5 461.5 H193.5" stroke="#000" stroke-width="1.4"/><path d="M192.3 458.8 L197.5 461.5 L192.3 464.2 Z" fill="#000"/>
<text x="177.1" y="470.5" font-size="6.6" fill="#222" font-style="italic">K</text>
<text x="181.6" y="471.6" font-size="5.6" fill="#222" font-style="italic" textLength="7.4" lengthAdjust="spacingAndGlyphs">off</text>
<text x="190.9" y="470.5" font-size="6.2" fill="#222" textLength="12.3" lengthAdjust="spacingAndGlyphs">slow</text>
<path d="M222.0 457.6 L228.6 454.7 L240.2 453.5" stroke="#b0b0b0" stroke-width="0.5" fill="none"/>
<path d="M228.6 454.7 L233.4 463.1 L226.1 463.1 L222.0 457.6" stroke="#b0b0b0" stroke-width="0.5" fill="none"/>
<path d="M233.4 463.1 L239.0 460.0" stroke="#b0b0b0" stroke-width="0.5" fill="none"/>
<circle cx="222.0" cy="457.6" r="2.2" fill="#999"/>
<circle cx="228.6" cy="454.7" r="2.2" fill="#999"/>
<circle cx="240.2" cy="453.5" r="2.2" fill="#999"/>
<circle cx="226.1" cy="463.1" r="2.2" fill="#999"/>
<circle cx="233.4" cy="463.1" r="2.2" fill="#999"/>
<circle cx="239.0" cy="460.0" r="2.7" fill="#1c5aa0"/>
<circle cx="245.0" cy="462.4" r="2.7" fill="#1c5aa0"/>
<circle cx="229.3" cy="469.7" r="2.7" fill="#1c5aa0"/>
<circle cx="236.5" cy="467.3" r="2.7" fill="#1c5aa0"/>
<circle cx="247.9" cy="471.1" r="2.7" fill="#1c5aa0"/>
<circle cx="242.1" cy="467.3" r="3.5" fill="#727272" stroke="#161616" stroke-width="1.2"/>
<circle cx="235.8" cy="476.0" r="3.4" fill="#fff" stroke="#f2c500" stroke-width="1.05"/>
<circle cx="242.1" cy="474.0" r="3.3" fill="#2a9ad6" stroke="#111" stroke-width="1.15"/>
<path d="M274.0 449.8 L271.6 456.6 L260.7 460.0" stroke="#b0b0b0" stroke-width="0.5" fill="none"/>
<path d="M271.6 456.6 L277.7 463.1 L282.5 468.0" stroke="#b0b0b0" stroke-width="0.5" fill="none"/>
<circle cx="274.0" cy="449.8" r="2.2" fill="#999"/>
<circle cx="271.6" cy="456.6" r="2.2" fill="#999"/>
<circle cx="260.7" cy="460.0" r="2.2" fill="#999"/>
<circle cx="277.7" cy="463.1" r="2.2" fill="#999"/>
<circle cx="282.5" cy="468.0" r="2.2" fill="#999"/>
<circle cx="266.3" cy="462.4" r="2.7" fill="#1c5aa0"/>
<circle cx="271.6" cy="467.3" r="2.7" fill="#1c5aa0"/>
<circle cx="274.5" cy="471.6" r="2.7" fill="#1c5aa0"/>
<circle cx="260.0" cy="468.0" r="3.5" fill="#727272" stroke="#161616" stroke-width="1.2"/>
<circle cx="266.8" cy="470.4" r="3.3" fill="#2a9ad6" stroke="#111" stroke-width="1.15"/>
<circle cx="282.5" cy="468.0" r="2.2" fill="#999"/>
<path d="M293.9 468.6 H298 M295.95 466.6 V470.6" stroke="#444" stroke-width="0.9"/>
<text x="300.3" y="452.2" font-size="7" fill="#222" text-anchor="start" textLength="34" lengthAdjust="spacingAndGlyphs">Zelavespib</text>
<circle cx="314.6" cy="465.9" r="4.15" fill="#fff" stroke="#ee0010" stroke-width="1.85"/>
<text x="346.2" y="458.1" font-size="9.2" fill="#1a1a1a">k Phase 2 ~ k<tspan font-size="6.4" dy="1.6">off</tspan><tspan dy="-1.6"> = 0.0148 h</tspan><tspan font-size="6" dy="-3.5">-1</tspan></text>
<text x="346.2" y="476.3" font-size="9.2" fill="#1a1a1a">R<tspan font-size="6.4" dy="1.6">t</tspan><tspan dy="-1.6"> = 1/k</tspan><tspan font-size="6.4" dy="1.6">off</tspan><tspan dy="-1.6"> = 67.56 h</tspan></text>
<circle cx="111.0" cy="496.9" r="3.5" fill="#727272" stroke="#161616" stroke-width="1.2"/>
<circle cx="118.2" cy="498.0" r="1.8" fill="#999"/>
<circle cx="116.6" cy="501.7" r="2.7" fill="#1c5aa0"/>
<circle cx="101.3" cy="507.0" r="3.5" fill="#727272" stroke="#161616" stroke-width="1.2"/>
<circle cx="110.6" cy="507.0" r="4.0" fill="#2a9ad6" stroke="#e8000e" stroke-width="2.2"/>
<circle cx="106.1" cy="511.9" r="2.2" fill="#1c5aa0"/>
<circle cx="102.1" cy="513.0" r="1.8" fill="#999"/>
<circle cx="121.5" cy="513.5" r="1.8" fill="#999"/>
<circle cx="110.6" cy="519.5" r="4.0" fill="#2a9ad6" stroke="#e8000e" stroke-width="2.2"/>
<circle cx="115.5" cy="521.5" r="2.2" fill="#1c5aa0"/>
<circle cx="121.9" cy="520.3" r="3.4" fill="#fff" stroke="#f2c500" stroke-width="1.05"/>
<circle cx="136.0" cy="494.8" r="2.2" fill="#1c5aa0"/>
<circle cx="140.3" cy="493.6" r="1.7" fill="#999"/>
<circle cx="133.9" cy="501.2" r="3.5" fill="#727272" stroke="#161616" stroke-width="1.2"/>
<circle cx="140.3" cy="501.2" r="3.5" fill="#727272" stroke="#161616" stroke-width="1.2"/>
<circle cx="148.4" cy="498.5" r="2.2" fill="#1c5aa0"/>
<circle cx="150.0" cy="494.8" r="1.7" fill="#999"/>
<circle cx="151.8" cy="502.8" r="4.0" fill="#2a9ad6" stroke="#e8000e" stroke-width="2.2"/>
<circle cx="152.6" cy="511.4" r="3.4" fill="#fff" stroke="#f2c500" stroke-width="1.05"/>
<circle cx="127.4" cy="512.5" r="2.3" fill="#1c5aa0"/>
<circle cx="131.6" cy="511.4" r="1.7" fill="#999"/>
<circle cx="133.2" cy="517.4" r="3.5" fill="#727272" stroke="#161616" stroke-width="1.2"/>
<circle cx="141.3" cy="518.3" r="3.3" fill="#2a9ad6" stroke="#111" stroke-width="1.15"/>
<circle cx="147.7" cy="517.0" r="4.0" fill="#2a9ad6" stroke="#e8000e" stroke-width="2.2"/>
<circle cx="139.2" cy="525.4" r="2.3" fill="#1c5aa0"/>
<circle cx="143.2" cy="527.5" r="1.7" fill="#999"/>
<text x="178" y="510.8" font-size="6.6" fill="#222" font-style="italic">K</text>
<text x="182.5" y="512.5" font-size="5.6" fill="#222" font-style="italic" textLength="7.4" lengthAdjust="spacingAndGlyphs">off</text>
<text x="192.5" y="511" font-size="6.1" fill="#222" textLength="10.1" lengthAdjust="spacingAndGlyphs">fast</text>
<path d="M186.5 517.6 H193" stroke="#000" stroke-width="1.4"/><path d="M191.8 514.9 L197 517.6 L191.8 520.3 Z" fill="#000"/>
<circle cx="234.4" cy="497.7" r="3.5" fill="#727272" stroke="#161616" stroke-width="1.2"/>
<circle cx="242.0" cy="499.1" r="1.7" fill="#999"/>
<circle cx="240.0" cy="502.5" r="2.2" fill="#1c5aa0"/>
<circle cx="224.2" cy="507.6" r="3.5" fill="#727272" stroke="#161616" stroke-width="1.2"/>
<circle cx="234.4" cy="507.6" r="3.3" fill="#2a9ad6" stroke="#111" stroke-width="1.15"/>
<circle cx="229.8" cy="512.7" r="2.2" fill="#1c5aa0"/>
<circle cx="225.9" cy="513.8" r="1.7" fill="#999"/>
<circle cx="234.4" cy="520.3" r="3.3" fill="#2a9ad6" stroke="#111" stroke-width="1.15"/>
<circle cx="239.2" cy="522.3" r="2.2" fill="#1c5aa0"/>
<circle cx="244.8" cy="521.1" r="3.4" fill="#fff" stroke="#f2c500" stroke-width="1.05"/>
<circle cx="244.8" cy="514.6" r="1.7" fill="#999"/>
<circle cx="259.8" cy="495.7" r="2.2" fill="#1c5aa0"/>
<circle cx="263.7" cy="494.0" r="1.7" fill="#999"/>
<circle cx="256.9" cy="502.5" r="3.5" fill="#727272" stroke="#161616" stroke-width="1.2"/>
<circle cx="263.7" cy="502.5" r="3.5" fill="#727272" stroke="#161616" stroke-width="1.2"/>
<circle cx="273.0" cy="495.7" r="1.7" fill="#999"/>
<circle cx="272.2" cy="500.5" r="2.2" fill="#1c5aa0"/>
<circle cx="275.0" cy="504.2" r="3.3" fill="#2a9ad6" stroke="#111" stroke-width="1.15"/>
<circle cx="275.8" cy="512.7" r="3.4" fill="#fff" stroke="#f2c500" stroke-width="1.05"/>
<circle cx="251.3" cy="513.2" r="2.2" fill="#1c5aa0"/>
<circle cx="254.7" cy="511.8" r="1.7" fill="#999"/>
<circle cx="256.9" cy="518.9" r="3.5" fill="#727272" stroke="#161616" stroke-width="1.2"/>
<circle cx="264.6" cy="519.4" r="3.3" fill="#2a9ad6" stroke="#111" stroke-width="1.15"/>
<circle cx="270.2" cy="518.3" r="3.3" fill="#2a9ad6" stroke="#111" stroke-width="1.15"/>
<circle cx="262.6" cy="525.9" r="2.2" fill="#1c5aa0"/>
<circle cx="266.5" cy="528.7" r="1.7" fill="#999"/>
<path d="M294.2 512.8 H298.3 M296.25 510.8 V514.8" stroke="#444" stroke-width="0.9"/>
<circle cx="314.6" cy="509.5" r="4.15" fill="#fff" stroke="#ee0010" stroke-width="1.85"/>
<text x="346.8" y="506.5" font-size="9.05" fill="#1a1a1a">k Phase 1 ~&#160; 0.2 h<tspan font-size="6" dy="-3.5">-1</tspan></text>
<text x="346.8" y="525.3" font-size="9.3" fill="#1a1a1a">T<tspan font-size="6.4" dy="1.8">1/2</tspan><tspan dy="-1.8"> ~ 3 h</tspan></text>
</svg></body></html>
